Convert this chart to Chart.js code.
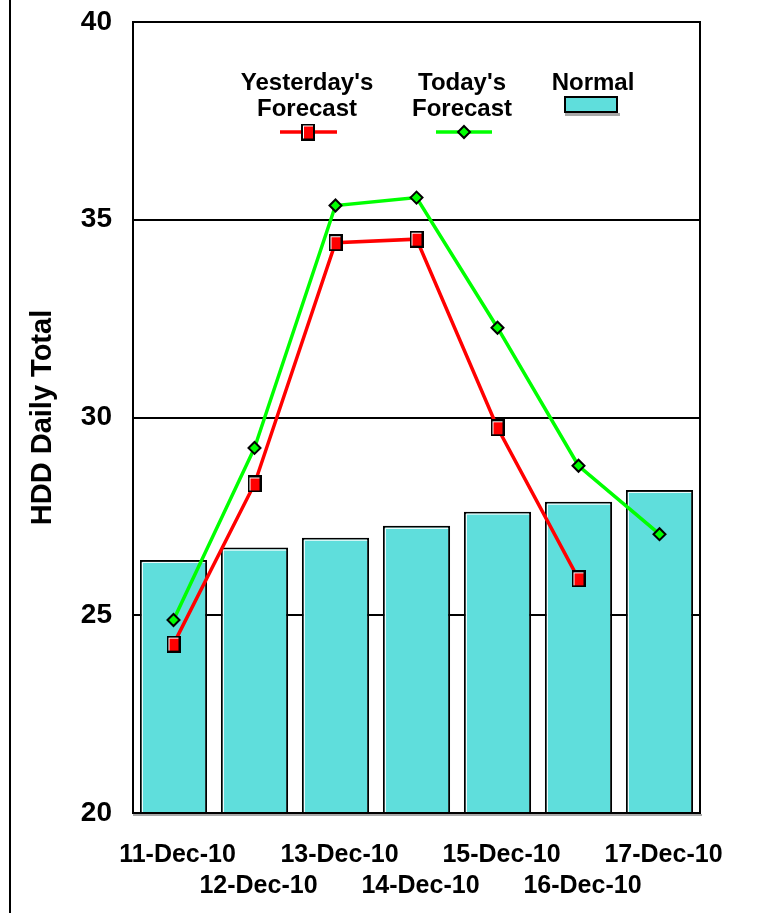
<!DOCTYPE html>
<html>
<head>
<meta charset="utf-8">
<title>HDD Daily Total</title>
<script src="https://cdn.jsdelivr.net/npm/chart.js@4/dist/chart.umd.min.js"></script>
<style>
  html, body { margin: 0; padding: 0; background: #ffffff; }
  canvas { display: block; }
</style>
</head>
<body>
<canvas id="chart" width="768" height="913"></canvas>
<script>
// Forecast days
const categories = ['11-Dec-10', '12-Dec-10', '13-Dec-10', '14-Dec-10', '15-Dec-10', '16-Dec-10', '17-Dec-10'];
// Heating degree days per day
const yesterdayForecast = [24.27, 28.32, 34.42, 34.51, 29.74, 25.92, null];
const todayForecast = [24.88, 29.23, 35.36, 35.56, 32.27, 28.78, 27.05];
const normalValues = [26.40, 26.71, 26.96, 27.26, 27.62, 27.87, 28.17];
// Value axis
const yTicks = [20, 25, 30, 35, 40];
const seriesLabels = [["Yesterday's", 'Forecast'], ["Today's", 'Forecast'], ['Normal']];
const axisTitle = 'HDD Daily Total';

const FONT = '"Liberation Sans", Arial, Helvetica, sans-serif';
const RED = '#ff0000';
const GREEN = '#00ff00';
const CYAN = '#5fdedc';

Chart.defaults.font.family = FONT;
Chart.defaults.color = '#000000';

// Square marker, slightly taller than wide, with a light inner edge
function makeSquareMarker() {
  const c = document.createElement('canvas');
  c.width = 14; c.height = 17;
  const g = c.getContext('2d');
  g.fillStyle = '#000000';
  g.fillRect(0, 0, 14, 17);
  g.fillStyle = '#ffffff';
  g.fillRect(2, 2, 10, 13);
  g.fillStyle = RED;
  g.fillRect(3, 3, 9, 12);
  return c;
}
const squareMarker = makeSquareMarker();

// Plot frame, bottom shadow and left page rule
const framePlugin = {
  id: 'frame',
  afterDatasetsDraw(chart) {
    const { ctx, chartArea: a } = chart;
    ctx.save();
    ctx.fillStyle = '#a8a8a8';
    ctx.fillRect(a.left, a.bottom + 1, a.right - a.left + 2, 2);
    ctx.strokeStyle = '#000000';
    ctx.lineWidth = 2;
    ctx.strokeRect(a.left, a.top, a.right - a.left, a.bottom - a.top);
    ctx.fillStyle = '#000000';
    ctx.fillRect(9, 0, 2, chart.height);
    ctx.restore();
  }
};

// Light inner edge on each bar
const barEdgePlugin = {
  id: 'barEdge',
  afterDatasetDraw(chart, args) {
    if (args.meta.type !== 'bar') return;
    const ctx = chart.ctx;
    const bottom = chart.chartArea.bottom;
    ctx.save();
    ctx.strokeStyle = '#ffffff';
    ctx.lineWidth = 1;
    args.meta.data.forEach(el => {
      const p = el.getProps(['x', 'y', 'base', 'width'], true);
      const l = p.x - p.width / 2;
      const r = p.x + p.width / 2;
      ctx.beginPath();
      ctx.moveTo(l + 2.5, Math.min(p.base, bottom));
      ctx.lineTo(l + 2.5, p.y + 2.5);
      ctx.lineTo(r - 2, p.y + 2.5);
      ctx.stroke();
    });
    ctx.restore();
  }
};

// Legend drawn inside the plot area: labels above their symbols
const legendPlugin = {
  id: 'insideLegend',
  afterDraw(chart) {
    const ctx = chart.ctx;
    ctx.save();
    ctx.font = 'bold 24px ' + FONT;
    ctx.fillStyle = '#000000';
    ctx.textAlign = 'center';
    ctx.textBaseline = 'middle';
    const cols = [307, 462, 593];
    seriesLabels.forEach((lines, i) => {
      lines.forEach((t, j) => ctx.fillText(t, cols[i], 83 + j * 26));
    });
    // Yesterday's symbol
    ctx.strokeStyle = RED;
    ctx.lineWidth = 3.5;
    ctx.beginPath(); ctx.moveTo(280, 132); ctx.lineTo(337, 132); ctx.stroke();
    ctx.drawImage(squareMarker, 308 - 7, 132 - 8.5);
    // Today's symbol
    ctx.strokeStyle = GREEN;
    ctx.beginPath(); ctx.moveTo(436, 132); ctx.lineTo(492, 132); ctx.stroke();
    ctx.beginPath();
    ctx.moveTo(464, 126); ctx.lineTo(470, 132); ctx.lineTo(464, 138); ctx.lineTo(458, 132); ctx.closePath();
    ctx.fillStyle = GREEN; ctx.fill();
    ctx.strokeStyle = '#000000'; ctx.lineWidth = 2; ctx.stroke();
    // Normal symbol
    ctx.fillStyle = '#a8a8a8';
    ctx.fillRect(565, 113, 55, 3);
    ctx.fillStyle = CYAN;
    ctx.fillRect(564, 96, 54, 17);
    ctx.strokeStyle = '#000000'; ctx.lineWidth = 2;
    ctx.strokeRect(565, 97, 52, 15);
    ctx.restore();
  }
};

new Chart(document.getElementById('chart'), {
  type: 'bar',
  data: {
    labels: categories,
    datasets: [
      {
        type: 'line',
        label: seriesLabels[0].join(' '),
        data: yesterdayForecast,
        borderColor: RED,
        borderWidth: 3.5,
        tension: 0,
        pointStyle: squareMarker,
        pointRadius: 7,
        pointHoverRadius: 7,
        order: 1
      },
      {
        type: 'line',
        label: seriesLabels[1].join(' '),
        data: todayForecast,
        borderColor: GREEN,
        borderWidth: 3.5,
        tension: 0,
        pointStyle: 'rectRot',
        pointRadius: 6,
        pointHoverRadius: 6,
        pointBackgroundColor: GREEN,
        pointBorderColor: '#000000',
        pointBorderWidth: 2,
        order: 2
      },
      {
        type: 'bar',
        label: seriesLabels[2].join(' '),
        data: normalValues,
        backgroundColor: CYAN,
        borderColor: '#000000',
        borderWidth: 2,
        borderSkipped: 'start',
        categoryPercentage: 1,
        barPercentage: 0.83,
        order: 3
      }
    ]
  },
  options: {
    responsive: false,
    animation: false,
    devicePixelRatio: 1,
    layout: { padding: { top: 22, right: 68, bottom: 0, left: 0 } },
    plugins: {
      legend: { display: false },
      tooltip: { enabled: false }
    },
    scales: {
      x: {
        type: 'category',
        offset: true,
        grid: { display: false, drawTicks: false },
        border: { display: false },
        ticks: {
          autoSkip: false,
          maxRotation: 0,
          minRotation: 0,
          padding: 26,
          labelOffset: 4,
          color: '#000000',
          font: { size: 25, weight: 'bold', lineHeight: 1.25 },
          callback(value, index) {
            const t = categories[index];
            return index % 2 === 0 ? t : ['', t];
          }
        },
        afterFit(scale) {
          scale.height = 100;
          scale.paddingLeft = 0;
          scale.paddingRight = 0;
        }
      },
      y: {
        min: yTicks[0],
        max: yTicks[yTicks.length - 1],
        afterBuildTicks(scale) { scale.ticks = yTicks.map(v => ({ value: v })); },
        grid: { color: '#000000', lineWidth: 2, drawTicks: false },
        border: { display: false },
        ticks: {
          padding: 21,
          color: '#000000',
          font: { size: 28, weight: 'bold' }
        },
        title: {
          display: true,
          text: axisTitle,
          color: '#000000',
          font: { size: 29, weight: 'bold' },
          padding: { top: 26, bottom: 0 }
        },
        afterFit(scale) {
          scale.width = 133;
          scale.paddingTop = 0;
          scale.paddingBottom = 0;
        }
      }
    }
  },
  plugins: [barEdgePlugin, framePlugin, legendPlugin]
});
</script>
</body>
</html>
